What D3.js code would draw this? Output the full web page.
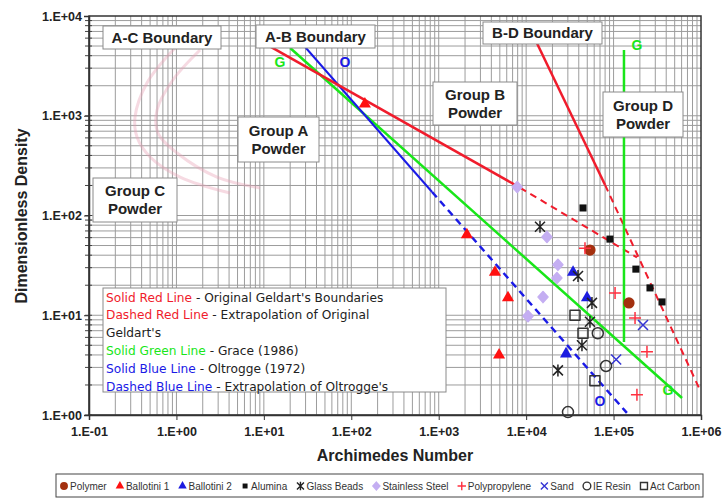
<!DOCTYPE html>
<html>
<head>
<meta charset="utf-8">
<script src="https://cdn.jsdelivr.net/npm/d3@7"></script>
<style>
body { margin: 0; background: #fff; }
svg { display: block; font-family: "Liberation Sans", Arial, sans-serif; }
</style>
</head>
<body>
<svg id="chart" width="722" height="499"></svg>
<script>
// axis ticks
var xTicks = [0.1, 1, 10, 100, 1e3, 1e4, 1e5, 1e6];
var xTickLabels = ["1.E-01", "1.E+00", "1.E+01", "1.E+02", "1.E+03", "1.E+04", "1.E+05", "1.E+06"];
var yTicks = [1, 10, 100, 1e3, 1e4];
var yTickLabels = ["1.E+00", "1.E+01", "1.E+02", "1.E+03", "1.E+04"];

// boundary lines [Ar, density]
var redSolidAB = [[12, 4900], [8500, 190]];
var redDashAB = [[8500, 190], [185000, 38]];
var redSolidBD = [[12600, 5870], [80000, 202]];
var redDashBD = [[80000, 202], [973000, 1.78]];
var greenGrace = [[20, 4775], [607000, 1.48]];
var greenVertical = [[131500, 4560], [131500, 5.4]];
var blueSolid = [[27, 5360], [840, 172]];
var blueDash = [[840, 172], [142000, 1.05]];
var acCurveOuter = [[0.96, 4775], [0.46, 2130], [0.336, 971], [0.354, 612], [0.5, 386], [1.1, 243], [4.1, 168]];
var acCurveInner = [[1.86, 4560], [0.91, 2282], [0.6, 1142], [0.615, 671], [1.02, 423], [2.91, 243], [9.04, 189]];

// measured powders [Ar, density]
var polymer = [[53700, 45], [150000, 13.3]];
var ballotini1 = [[143, 1310], [2100, 64], [4400, 27], [6200, 15], [4900, 4.0]];
var ballotini2 = [[34400, 27], [49700, 15], [28600, 4.1]];
var alumina = [[44700, 119], [91000, 58], [180000, 29], [261000, 18.8], [358000, 13.6]];
var glassBeads = [[14400, 77], [39200, 24.7], [56600, 13.3], [53700, 8.6], [43500, 5.0], [23100, 2.8]];
var stainlessSteel = [[7900, 193], [17300, 61], [23100, 32], [22500, 23.6], [15600, 15.2], [10500, 9.8]];
var polypropylene = [[47100, 47], [104000, 16.7], [176000, 9.4], [241000, 4.3], [185000, 1.6]];
var sand = [[217000, 8.0], [107000, 3.6]];
var ieResin = [[66000, 6.6], [82000, 3.1], [30100, 1.07]];
var actCarbon = [[36200, 10], [44700, 6.6], [61200, 2.2]];

var seriesNames = ["Polymer", "Ballotini 1", "Ballotini 2", "Alumina", "Glass Beads", "Stainless Steel", "Polypropylene", "Sand", "IE Resin", "Act Carbon"];

var svg = d3.select("#chart");
var pLeft = 89, pRight = 701, pTop = 16, pBottom = 415;

var x = d3.scaleLog().domain([0.1, 1e6]).range([pLeft, pRight]);
var y = d3.scaleLog().domain([1, 1e4]).range([pBottom, pTop]);

var font = "'Liberation Sans', Arial, sans-serif";

// grid
var minorVals = function(lo, hi) {
	var out = [];
	for (var e = lo; e < hi; e++)
		for (var k = 1; k <= 9; k++) out.push(k * Math.pow(10, e));
	return out;
};
var gx = minorVals(-1, 6), gy = minorVals(0, 4);
var grid = svg.append("g");
grid.selectAll(".gx").data(gx).enter().append("line")
	.attr("x1", function(d) { return x(d); }).attr("x2", function(d) { return x(d); })
	.attr("y1", pTop).attr("y2", pBottom)
	.attr("stroke", "#9c9c9c").attr("stroke-width", 1);
grid.selectAll(".gy").data(gy).enter().append("line")
	.attr("y1", function(d) { return y(d); }).attr("y2", function(d) { return y(d); })
	.attr("x1", pLeft).attr("x2", pRight)
	.attr("stroke", "#9c9c9c").attr("stroke-width", 1);

// y minor ticks crossing the axis
svg.append("g").selectAll("line").data(gy).enter().append("line")
	.attr("x1", pLeft - 4).attr("x2", pLeft + 3)
	.attr("y1", function(d) { return y(d); }).attr("y2", function(d) { return y(d); })
	.attr("stroke", "#444");

svg.append("rect").attr("x", pLeft).attr("y", pTop)
	.attr("width", pRight - pLeft).attr("height", pBottom - pTop)
	.attr("fill", "none").attr("stroke", "#333").attr("stroke-width", 1.5);

var xAxis = svg.append("g").attr("transform", "translate(0," + pBottom + ")")
	.call(d3.axisBottom(x).tickValues(xTicks).tickSize(5).tickPadding(7)
		.tickFormat(function(d, i) { return xTickLabels[i]; }));
var yAxis = svg.append("g").attr("transform", "translate(" + pLeft + ",0)")
	.call(d3.axisLeft(y).tickValues(yTicks).tickSize(5).tickPadding(2)
		.tickFormat(function(d, i) { return yTickLabels[i]; }));
[xAxis, yAxis].forEach(function(a) {
	a.select(".domain").attr("stroke", "#333").attr("stroke-width", 1.5);
	a.selectAll(".tick line").attr("stroke", "#333");
	a.selectAll("text").attr("font-family", font).attr("font-size", "12.5px")
		.attr("font-weight", "bold").attr("fill", "#222");
});

svg.append("text").attr("x", 395).attr("y", 461).attr("text-anchor", "middle")
	.attr("font-size", "16px").attr("font-weight", "bold").attr("fill", "#222")
	.text("Archimedes Number");
svg.append("text").attr("transform", "translate(27,216) rotate(-90)").attr("text-anchor", "middle")
	.attr("font-size", "16px").attr("font-weight", "bold").attr("fill", "#222")
	.text("Dimensionless Density");

// lines
var line = d3.line().x(function(d) { return x(d[0]); }).y(function(d) { return y(d[1]); });
var curve = d3.line().curve(d3.curveCatmullRom).x(function(d) { return x(d[0]); }).y(function(d) { return y(d[1]); });
var lines = svg.append("g");

[acCurveOuter, acCurveInner].forEach(function(c) {
	lines.append("path").attr("d", curve(c)).attr("fill", "none")
		.attr("stroke", "#e9a3b6").attr("stroke-width", 3).attr("opacity", 0.4);
});

var redC = "#f01c2c", greenC = "#19e619", blueC = "#1a1ae6";
var lineSpecs = [
	[redDashAB, redC, 2, "7,5"],
	[redDashBD, redC, 2, "7,5"],
	[blueDash, blueC, 2.5, "7,5"],
	[greenGrace, greenC, 2.5, null],
	[greenVertical, greenC, 2.5, null],
	[blueSolid, blueC, 2, null],
	[redSolidAB, redC, 2.5, null],
	[redSolidBD, redC, 2.5, null]
];
lineSpecs.forEach(function(s) {
	lines.append("path").attr("d", line(s[0])).attr("fill", "none")
		.attr("stroke", s[1]).attr("stroke-width", s[2])
		.attr("stroke-dasharray", s[3]);
});

// markers
function markerPath(type) {
	if (type == "triangle") return d3.symbol(d3.symbolTriangle, 64)();
	if (type == "square") return d3.symbol(d3.symbolSquare, 50)();
	if (type == "osquare") return d3.symbol(d3.symbolSquare, 100)();
	if (type == "circle") return d3.symbol(d3.symbolCircle, 100)();
	if (type == "ocircle") return d3.symbol(d3.symbolCircle, 95)();
	if (type == "diamond") return "M0,-5.5L5,0L0,5.5L-5,0Z";
	if (type == "star") return "M-5,-5L5,5M-5,5L5,-5M0,-6V6";
	if (type == "plus") return "M-6,0H6M0,-6V6";
	return "M-5,-5L5,5M-5,5L5,-5";
}
var seriesStyle = [
	[polymer, "circle", "#a3300f", null],
	[ballotini1, "triangle", "#ff1010", null],
	[ballotini2, "triangle", "#1c1ce0", null],
	[alumina, "square", "#111", null],
	[glassBeads, "star", null, "#222"],
	[stainlessSteel, "diamond", "#c4aef2", "#c4aef2"],
	[polypropylene, "plus", null, "#ff3040"],
	[sand, "x", null, "#3434d4"],
	[ieResin, "ocircle", "none", "#333"],
	[actCarbon, "osquare", "none", "#333"]
];
var marks = svg.append("g");
seriesStyle.forEach(function(s) {
	marks.selectAll(null).data(s[0]).enter().append("path")
		.attr("transform", function(d) { return "translate(" + x(d[0]) + "," + y(d[1]) + ")"; })
		.attr("d", markerPath(s[1]))
		.attr("fill", s[2] || "none")
		.attr("stroke", s[3] || "none").attr("stroke-width", 1.5)
		.attr("stroke-linejoin", "round");
});

// annotation boxes
var boxes = [
	{ x: 103, y: 26, w: 118, h: 23, lines: ["A-C Boundary"] },
	{ x: 256, y: 25, w: 119, h: 23, lines: ["A-B Boundary"] },
	{ x: 483, y: 22, w: 119, h: 22, lines: ["B-D Boundary"] },
	{ x: 93, y: 178, w: 84, h: 44, lines: ["Group C", "Powder"] },
	{ x: 238, y: 117, w: 81, h: 45, lines: ["Group A", "Powder"] },
	{ x: 433, y: 82, w: 84, h: 43, lines: ["Group B", "Powder"] },
	{ x: 603, y: 92, w: 80, h: 45, lines: ["Group D", "Powder"] }
];
var ann = svg.append("g");
boxes.forEach(function(b) {
	ann.append("rect").attr("x", b.x).attr("y", b.y).attr("width", b.w).attr("height", b.h)
		.attr("fill", "#fff").attr("stroke", "#8a8a8a");
	b.lines.forEach(function(t, i) {
		ann.append("text").attr("x", b.x + b.w / 2)
			.attr("y", b.y + b.h / 2 + (i - (b.lines.length - 1) / 2) * 18 + 5)
			.attr("text-anchor", "middle").attr("font-size", "15px").attr("font-weight", "bold")
			.attr("fill", "#222").text(t);
	});
});

var letters = [["G", 280, 67, greenC], ["O", 345, 67, blueC], ["G", 637, 50, greenC], ["G", 668, 395, greenC], ["O", 600, 406, blueC]];
letters.forEach(function(l) {
	ann.append("text").attr("x", l[1]).attr("y", l[2]).attr("text-anchor", "middle")
		.attr("font-size", "14px").attr("font-weight", "bold").attr("fill", l[3]).text(l[0]);
});

// line legend
var legendRows = [
	[["Solid Red Line", redC], [" - Original Geldart's Boundaries", "#222"]],
	[["Dashed Red Line", redC], [" - Extrapolation of Original", "#222"]],
	[["Geldart's", "#222"]],
	[["Solid Green Line", greenC], [" - Grace (1986)", "#222"]],
	[["Solid Blue Line", blueC], [" - Oltrogge (1972)", "#222"]],
	[["Dashed Blue Line", blueC], [" - Extrapolation of Oltrogge's", "#222"]]
];
ann.append("rect").attr("x", 103).attr("y", 288).attr("width", 343).attr("height", 104)
	.attr("fill", "#fff").attr("stroke", "#8a8a8a");
legendRows.forEach(function(r, i) {
	var t = ann.append("text").attr("x", 106).attr("y", 301.5 + i * 17.8)
		.attr("font-family", "'DejaVu Sans', sans-serif").attr("font-size", "12.2px");
	r.forEach(function(p) { t.append("tspan").attr("fill", p[1]).text(p[0]); });
});

// series legend
var leg = svg.append("g");
leg.append("rect").attr("x", 56).attr("y", 474).attr("width", 647).attr("height", 23)
	.attr("fill", "#fff").attr("stroke", "#444");
var items = seriesStyle.map(function(s, i) {
	var m = leg.append("path").attr("d", markerPath(s[1])).attr("fill", s[2] || "none")
		.attr("stroke", s[3] || "none").attr("stroke-width", 2);
	var t = leg.append("text").attr("y", 489.5).attr("font-size", "10px")
		.attr("fill", "#333").text(seriesNames[i]);
	return { m: m, t: t, w: t.node().getComputedTextLength() };
});
var used = d3.sum(items, function(d) { return d.w + 10; });
var gap = (700 - 60 - used) / (items.length - 1);
var lx = 60;
items.forEach(function(it) {
	it.m.attr("transform", "translate(" + (lx + 4) + ",486) scale(0.7)");
	it.t.attr("x", lx + 10);
	lx += 10 + it.w + gap;
});
</script>
</body>
</html>
